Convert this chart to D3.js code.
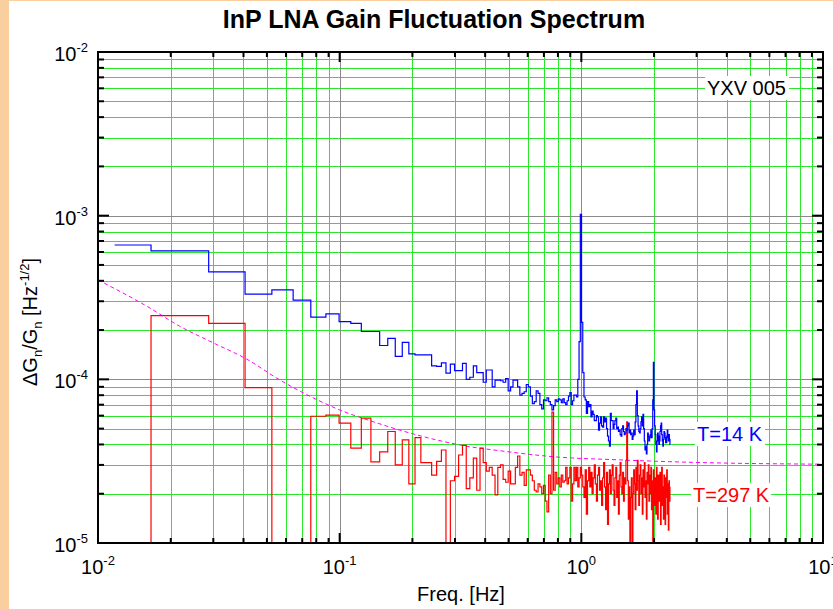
<!DOCTYPE html>
<html><head><meta charset="utf-8">
<script src="https://cdn.jsdelivr.net/npm/d3@7"></script>
<style>body{margin:0;background:#fff;} svg{display:block;font-family:"Liberation Sans",Arial,Helvetica,sans-serif;}</style>
</head><body><svg id="c" width="833" height="609"></svg>
<script>
// ---- data ----
const UNIT = 1e-5;          // values below are in units of 1e-5 Hz^-1/2
const binSpacingHz = 0.01172; // FFT bin spacing; point k sits at k * spacing
const blueT14 = [
 66.2,60.9,45.3,33.2,35.2,30.5,24.0,25.1,22.5,22.0,
 19.6,19.6,16.1,17.8,13.8,16.8,14.3,14.1,14.1,14.1,
 12.1,12.0,12.6,10.9,12.4,11.3,11.3,12.5,10.0,10.3,
 12.1,11.0,11.0,9.6,11.4,11.4,9.0,9.9,9.9,9.8,
 9.6,10.1,8.5,9.0,9.9,9.9,9.0,8.0,8.2,8.4,
 9.3,9.0,7.9,7.1,7.3,8.5,8.2,7.0,6.6,7.5,
 7.4,7.7,7.3,7.0,6.5,6.9,7.5,7.3,7.6,7.5,
 7.2,7.6,7.2,7.0,7.4,7.9,8.3,7.0,7.4,8.0,
 8.0,7.8,10.0,17.0,102,22.3,11.0,7.8,7.5,6.2,
 7.3,6.8,7.0,5.9,6.4,6.1,5.6,5.6,6.0,5.9,
 4.9,5.4,5.9,5.2,5.1,5.9,5.5,5.8,5.0,4.5,
 4.2,3.9,6.2,5.6,5.6,5.0,5.3,5.6,5.8,5.0,
 5.1,4.8,4.9,4.6,4.5,5.0,5.2,4.8,4.6,4.7,
 5.0,4.9,5.2,5.4,4.7,4.9,4.6,4.7,4.3,4.5,
 4.9,4.6,5.5,7.0,8.5,6.0,5.2,4.8,4.7,5.0,
 5.5,5.9,5.2,6.1,5.0,4.2,3.7,3.9,3.5,4.0,
 4.7,4.5,4.2,4.4,4.6,4.9,4.4,5.0,7.5,12.7,
 6.5,5.2,4.6,4.0,3.6,4.2,4.7,4.5,4.0,4.2,
 4.8,5.2,5.4,4.6,4.2,3.9,4.3,4.8,4.7,4.4,
 4.1,4.1,4.5,4.9,4.4,4.2,4.6,4.3,4.0
];
const redT297 = [
 0.5,24.5,22.0,8.9,0.5,0.5,5.95,6.05,5.4,3.8,
 5.8,3.13,3.6,4.8,3.0,4.27,2.3,4.4,3.1,3.1,
 2.6,3.15,3.7,0.5,2.4,2.55,3.45,3.95,2.15,2.5,
 3.3,2.1,3.8,3.1,2.75,2.9,2.6,1.97,2.9,3.0,
 2.45,2.35,2.75,2.3,2.3,2.9,3.4,2.6,2.7,2.25,
 2.8,2.8,2.6,2.4,2.1,2.05,2.3,2.2,2.0,2.25,
 1.8,1.55,2.6,2.0,6.3,2.1,2.7,2.3,2.5,2.2,
 2.6,2.35,2.4,2.9,2.3,2.5,2.9,1.8,2.3,2.9,
 2.4,2.9,2.2,2.5,2.9,2.6,2.2,1.9,2.8,1.5,
 2.4,2.9,2.2,2.7,2.0,2.5,3.0,2.3,1.8,2.6,
 2.9,2.1,2.4,1.7,2.5,3.1,2.2,1.6,2.7,1.3,
 2.3,2.8,2.0,2.6,3.0,2.1,1.7,2.5,2.9,1.9,
 2.4,1.5,2.6,3.1,2.2,2.0,2.7,1.8,2.5,2.3,
 3.2,5.5,2.4,1.4,2.2,0.5,1.9,2.5,0.6,2.0,
 2.8,2.3,1.6,2.9,2.1,3.2,2.4,1.7,2.6,3.0,
 2.0,2.5,1.5,2.8,2.2,3.1,1.9,2.4,1.4,2.7,
 2.3,3.0,1.8,2.6,2.0,2.9,1.6,2.4,0.6,2.8,
 1.7,2.5,2.2,1.5,2.9,2.0,1.4,2.6,2.3,1.8,
 2.7,1.3,2.4,2.9,1.7,2.2,1.4,2.6,2.0,1.3,
 2.5,1.9,2.8,1.5,2.3,1.2,2.4,1.8,2.2
];
// fitted noise floor (dashed magenta)
const fitFreq = [0.01,0.0159,0.0218,0.030,0.0412,0.0566,0.0778,0.1,0.138,0.208,0.324,0.49,0.76,1.44,2.89,10];
const fitVal  = [40.5,28.0,21.1,16.7,13.3,9.9,7.7,6.5,5.5,4.58,3.94,3.62,3.37,3.22,3.11,3.03];
const xTickExps = [-2,-1,0,1];
const yTickExps = [-5,-4,-3,-2];
const minorMults = [2,3,4,5,6,7,8,9];

// ---- drawing ----
const svg = d3.select("#c");
const L=98,R=823,T=52,B=543;
const x = d3.scaleLog().domain([1e-2,1e1]).range([L,R]);
const y = d3.scaleLog().domain([1e-5,1e-2]).range([B,T]);

svg.append("rect").attr("x",0).attr("y",0).attr("width",833).attr("height",609).attr("fill","#fff");
svg.append("rect").attr("x",0).attr("y",0).attr("width",9).attr("height",609).attr("fill","#f9cfa0");
svg.append("rect").attr("x",0).attr("y",0).attr("width",833).attr("height",1).attr("fill","#f9cfa0");

const xDec = xTickExps.map(e=>Math.pow(10,e));
const yDec = yTickExps.map(e=>Math.pow(10,e));
const xMinor = xDec.slice(0,-1).flatMap(d=>minorMults.map(m=>m*d));
const yMinor = yDec.slice(0,-1).flatMap(d=>minorMults.map(m=>m*d));

const grid = svg.append("g");
const green = "#2be62b";
grid.selectAll(".vx").data(xMinor).join("line")
  .attr("x1",d=>Math.round(x(d))+0.5).attr("x2",d=>Math.round(x(d))+0.5).attr("y1",T).attr("y2",B)
  .attr("stroke",green).attr("stroke-width",1);
grid.selectAll(".hy").data(yMinor).join("line")
  .attr("y1",d=>Math.round(y(d))+0.5).attr("y2",d=>Math.round(y(d))+0.5).attr("x1",L).attr("x2",R)
  .attr("stroke",green).attr("stroke-width",1);
grid.selectAll(".vg").data(xDec.slice(1,-1)).join("line")
  .attr("x1",d=>Math.round(x(d))+0.5).attr("x2",d=>Math.round(x(d))+0.5).attr("y1",T).attr("y2",B)
  .attr("stroke","#8a8a8a").attr("stroke-width",1);
grid.selectAll(".hg").data(yDec.slice(1,-1)).join("line")
  .attr("y1",d=>Math.round(y(d))+0.5).attr("y2",d=>Math.round(y(d))+0.5).attr("x1",L).attr("x2",R)
  .attr("stroke","#8a8a8a").attr("stroke-width",1);

svg.append("defs").append("clipPath").attr("id","pc").append("rect")
  .attr("x",L).attr("y",T).attr("width",R-L).attr("height",B-T);
const plot = svg.append("g").attr("clip-path","url(#pc)");

const stepLine = d3.line().x(d=>x(d[0])).y(d=>y(d[1])).curve(d3.curveStep);
const toPts = arr => arr.map((v,i)=>[(i+1)*binSpacingHz, v*UNIT]);

plot.append("path").attr("d", d3.line().x(d=>x(d[0])).y(d=>y(d[1])).curve(d3.curveMonotoneX)(fitFreq.map((f,i)=>[f,fitVal[i]*UNIT])))
  .attr("fill","none").attr("stroke","#ff00ff").attr("stroke-width",1).attr("stroke-dasharray","4,3");
plot.append("path").attr("d", stepLine(toPts(redT297)))
  .attr("fill","none").attr("stroke","#ff0000").attr("stroke-width",1.2);
plot.append("path").attr("d", stepLine(toPts(blueT14)))
  .attr("fill","none").attr("stroke","#0000ff").attr("stroke-width",1.2);

// axes ticks (inward on all four sides)
const ax = svg.append("g").attr("stroke","#000");
function ticks(vals,len,side){
  ax.selectAll(null).data(vals).join("line").each(function(d){
    const s=d3.select(this);
    if(side==="b"){const p=x(d);s.attr("x1",p).attr("x2",p).attr("y1",B).attr("y2",B-len);}
    if(side==="t"){const p=x(d);s.attr("x1",p).attr("x2",p).attr("y1",T).attr("y2",T+len);}
    if(side==="l"){const p=y(d);s.attr("y1",p).attr("y2",p).attr("x1",L).attr("x2",L+len);}
    if(side==="r"){const p=y(d);s.attr("y1",p).attr("y2",p).attr("x1",R).attr("x2",R-len);}
  }).attr("stroke-width",2);
}
ticks(xDec,10,"b");ticks(xMinor,5,"b");ticks(xDec,10,"t");ticks(xMinor,5,"t");
ticks(yDec,11,"l");ticks(yMinor,6,"l");ticks(yDec,11,"r");ticks(yMinor,6,"r");
svg.append("rect").attr("x",L).attr("y",T).attr("width",R-L).attr("height",B-T)
  .attr("fill","none").attr("stroke","#000").attr("stroke-width",2);

// tick labels
const xl = svg.append("g").attr("font-size",20).attr("text-anchor","middle").attr("fill","#000");
xTickExps.forEach(e=>{
  const t = xl.append("text").attr("x",x(Math.pow(10,e))).attr("y",574);
  t.append("tspan").text("10");
  t.append("tspan").attr("dy",-9).attr("font-size",13).text(e);
});
const yl = svg.append("g").attr("font-size",20).attr("text-anchor","end").attr("fill","#000");
yTickExps.forEach(e=>{
  const t = yl.append("text").attr("x",88).attr("y",y(Math.pow(10,e))+9);
  t.append("tspan").text("10");
  t.append("tspan").attr("dy",-9).attr("font-size",13).text(e);
});

// titles
svg.append("text").attr("x",434).attr("y",28).attr("text-anchor","middle")
  .attr("font-size",25).attr("font-weight","bold").text("InP LNA Gain Fluctuation Spectrum");
svg.append("text").attr("x",461).attr("y",601).attr("text-anchor","middle")
  .attr("font-size",20).text("Freq. [Hz]");
const yt = svg.append("text").attr("transform","translate(37,322) rotate(-90)")
  .attr("text-anchor","middle").attr("font-size",20);
yt.append("tspan").text("\u0394G");
yt.append("tspan").attr("dy",5).attr("font-size",13).text("n");
yt.append("tspan").attr("dy",-5).text("/G");
yt.append("tspan").attr("dy",5).attr("font-size",13).text("n");
yt.append("tspan").attr("dy",-5).text(" [Hz");
yt.append("tspan").attr("dy",-8).attr("font-size",13).text("-1/2");
yt.append("tspan").attr("dy",8).text("]");

// annotations
function label(txt,x0,yb,w,col){
  svg.append("rect").attr("x",x0-2).attr("y",yb-19).attr("width",w+4).attr("height",24).attr("fill","#fff");
  svg.append("text").attr("x",x0).attr("y",yb).attr("font-size",20).attr("fill",col).text(txt);
}
label("YXV 005",707,95,80,"#000");
label("T=14 K",697,441,66,"#0000ff");
label("T=297 K",693,502,76,"#ff0000");
</script></body></html>
